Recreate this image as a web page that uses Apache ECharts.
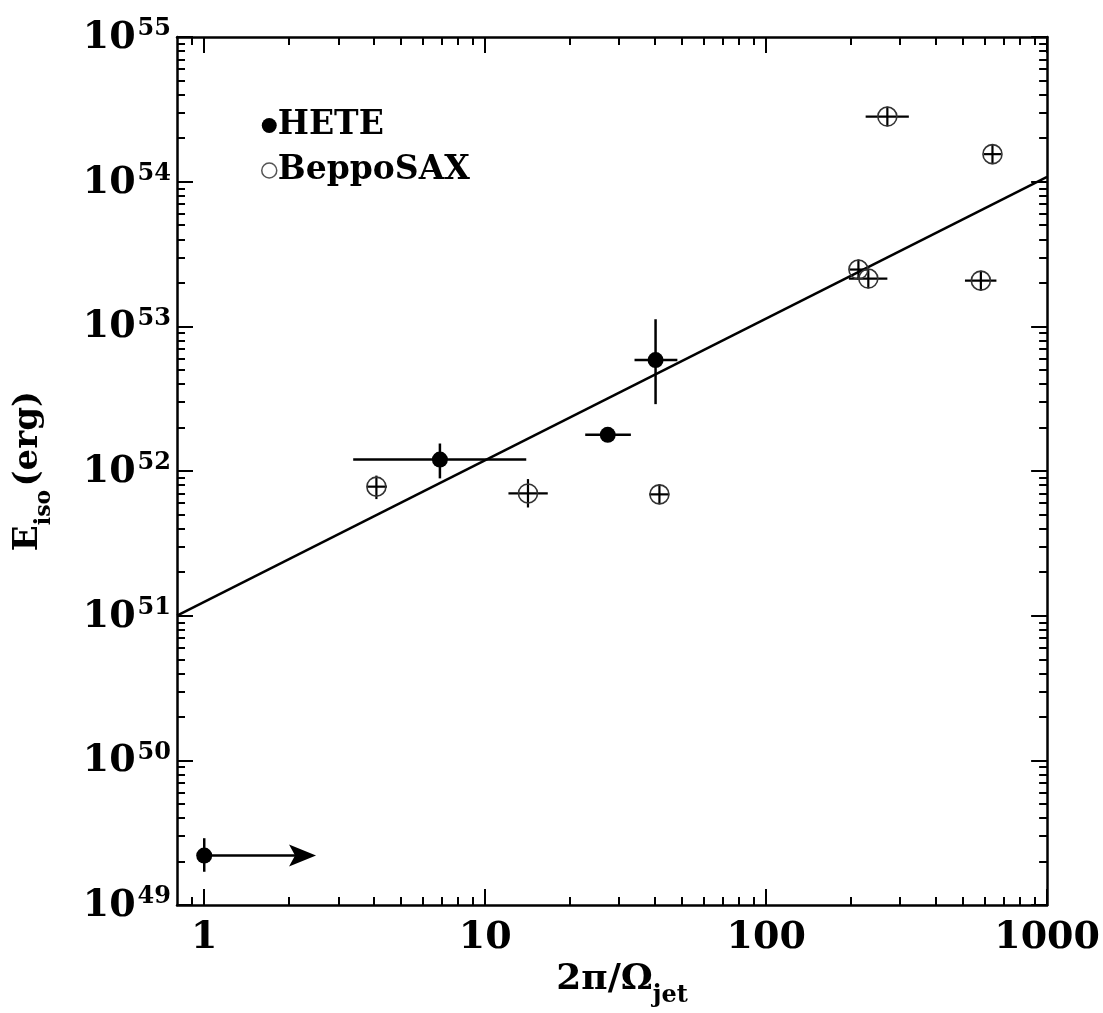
<!DOCTYPE html>
<html><head><meta charset="utf-8">
<script src="https://cdn.jsdelivr.net/npm/echarts@6.0.0/dist/echarts.min.js"></script>
<style>html,body{margin:0;padding:0;background:#fff;}#c{width:1103px;height:1013px;}</style>
</head><body><div id="c"></div>
<script>
// ---- data ----
const heteX    = [1, 6.9, 27.3, 40.4];
const heteY    = [2.2e49, 1.2e52, 1.78e52, 5.85e52];
const heteXLo  = [1, 3.39, 22.7, 34];
const heteXHi  = [1, 14.0, 33.0, 48.3];
const heteYLo  = [1.7e49, 0.89e52, 1.78e52, 2.9e52];
const heteYHi  = [2.9e49, 1.55e52, 1.78e52, 1.12e53];
const limitX   = [1];          // lower-limit arrow start
const limitY   = [2.2e49];
const limitEnd = [2.5];        // arrow tip

const saxX   = [4.1, 14.2, 41.7, 213, 231, 270, 581, 639];
const saxY   = [7.8e51, 7.0e51, 6.9e51, 2.47e53, 2.14e53, 2.82e54, 2.07e53, 1.55e54];
const saxXLo = [3.8, 12.1, 38.4, 198, 197, 226, 510, 595];
const saxXHi = [4.47, 16.7, 45.2, 230, 270, 322, 660, 686];
const saxYLo = [6.4e51, 5.6e51, 5.9e51, 2.1e53, 1.83e53, 2.41e54, 1.77e53, 1.32e54];
const saxYHi = [9.3e51, 8.8e51, 8.1e51, 2.9e53, 2.5e53, 3.3e54, 2.42e53, 1.82e54];

const fitX = [0.8, 1000];
const fitY = [1.0e51, 1.08e54];

const xMajor = [1, 10, 100, 1000];
const xMinor = [0.9, 2, 3, 4, 5, 6, 7, 8, 9, 20, 30, 40, 50, 60, 70, 80, 90, 200, 300, 400, 500, 600, 700, 800, 900];
const yMajor = [1e49, 1e50, 1e51, 1e52, 1e53, 1e54, 1e55];
const yMinor = [2e49,3e49,4e49,5e49,6e49,7e49,8e49,9e49,
                2e50,3e50,4e50,5e50,6e50,7e50,8e50,9e50,
                2e51,3e51,4e51,5e51,6e51,7e51,8e51,9e51,
                2e52,3e52,4e52,5e52,6e52,7e52,8e52,9e52,
                2e53,3e53,4e53,5e53,6e53,7e53,8e53,9e53,
                2e54,3e54,4e54,5e54,6e54,7e54,8e54,9e54];
const xRange = [0.8, 1000.0001];
const yRange = [0.9999999e49, 1.0000001e55];

// ---- chart ----
const FONT = 'DejaVu Serif';
const chart = echarts.init(document.getElementById('c'), null, {renderer: 'canvas'});

function xAx(pos, ticks, len, main) {
  return {
    type: 'log', logBase: 10, position: pos, min: xRange[0], max: xRange[1],
    axisLine: {show: main, onZero: false, lineStyle: {color: '#000', width: 2.5}},
    axisTick: {show: true, inside: true, length: len, customValues: ticks, lineStyle: {color: '#000', width: 2}},
    axisLabel: {show: false},
    splitLine: {show: false}, minorTick: {show: false}
  };
}
function yAx(pos, ticks, len, main) {
  return {
    type: 'log', logBase: 10, position: pos, min: yRange[0], max: yRange[1],
    axisLine: {show: main, onZero: false, lineStyle: {color: '#000', width: 2.5}},
    axisTick: {show: true, inside: true, length: len, customValues: ticks, lineStyle: {color: '#000', width: 2}},
    axisLabel: {show: false},
    splitLine: {show: false}, minorTick: {show: false}
  };
}

const xMain = xAx('bottom', xMajor, 16, true);
xMain.axisLabel = {
  show: true, customValues: xMajor, margin: 14,
  fontFamily: FONT, fontWeight: 'bold', fontSize: 38, color: '#000',
  formatter: v => String(Math.round(v))
};
xMain.name = '{a|2\u03c0/\u03a9}{s|jet}';
xMain.nameLocation = 'middle';
xMain.nameGap = 50;
xMain.nameTextStyle = {
  padding: [0, 0, 0, 20],
  rich: {
    a: {fontFamily: FONT, fontWeight: 'bold', fontSize: 36, color: '#000', lineHeight: 46, verticalAlign: 'top'},
    s: {fontFamily: FONT, fontWeight: 'bold', fontSize: 24, color: '#000', lineHeight: 24, verticalAlign: 'bottom'}
  }
};

const yMain = yAx('left', yMajor, 16, true);
yMain.axisLabel = {
  show: true, customValues: yMajor, margin: 6,
  formatter: v => '{b|10}{s|' + Math.round(Math.log10(v)) + '}',
  rich: {
    b: {fontFamily: FONT, fontWeight: 'bold', fontSize: 38, color: '#000', lineHeight: 40, verticalAlign: 'bottom'},
    s: {fontFamily: FONT, fontWeight: 'bold', fontSize: 24, color: '#000', lineHeight: 24, verticalAlign: 'top', padding: [0, 0, 0, 2]}
  }
};
yMain.name = '{a|E}{s|iso} {a|(erg)}';
yMain.nameLocation = 'middle';
yMain.nameRotate = 90;
yMain.nameGap = 122;
yMain.nameTextStyle = {
  rich: {
    a: {fontFamily: FONT, fontWeight: 'bold', fontSize: 34, color: '#000', lineHeight: 44, verticalAlign: 'top'},
    s: {fontFamily: FONT, fontWeight: 'bold', fontSize: 22, color: '#000', lineHeight: 22, verticalAlign: 'bottom'}
  }
};

function errRender(width) {
  return function (params, api) {
    const x = api.value(0), y = api.value(1);
    const a = api.coord([api.value(2), y]), b = api.coord([api.value(3), y]);
    const c = api.coord([x, api.value(4)]), d = api.coord([x, api.value(5)]);
    const st = {stroke: '#000', lineWidth: width};
    return {type: 'group', children: [
      {type: 'line', shape: {x1: a[0], y1: a[1], x2: b[0], y2: b[1]}, style: st},
      {type: 'line', shape: {x1: c[0], y1: c[1], x2: d[0], y2: d[1]}, style: st}
    ]};
  };
}

const heteErr = heteX.map((x, i) => [x, heteY[i], heteXLo[i], heteXHi[i], heteYLo[i], heteYHi[i]]);
const saxErr  = saxX.map((x, i) => [x, saxY[i], saxXLo[i], saxXHi[i], saxYLo[i], saxYHi[i]]);
const arrowData = limitX.map((x, i) => [x, limitY[i], limitEnd[i]]);

const option = {
  animation: false,
  backgroundColor: '#fff',
  grid: {left: 177, right: 47, top: 37, bottom: 100, containLabel: false},
  legend: {
    orient: 'vertical', left: 256, top: 104, itemWidth: 15, itemHeight: 15, itemGap: 12,
    selectedMode: false,
    textStyle: {fontFamily: FONT, fontWeight: 'bold', fontSize: 33, color: '#000', padding: [0, 0, 0, -4]},
    data: [
      {name: 'HETE', icon: 'circle', itemStyle: {color: '#000', borderWidth: 0, opacity: 1}},
      {name: 'BeppoSAX', icon: 'circle', itemStyle: {color: '#fff', borderColor: '#555', borderWidth: 1.5, opacity: 1}}
    ]
  },
  xAxis: [xMain, xAx('bottom', xMinor, 8, false), xAx('top', xMajor, 16, true), xAx('top', xMinor, 8, false)],
  yAxis: [yMain, yAx('left', yMinor, 8, false), yAx('right', yMajor, 16, true), yAx('right', yMinor, 8, false)],
  series: [
    {type: 'line', name: 'fit', data: fitX.map((x, i) => [x, fitY[i]]), symbol: 'none',
     lineStyle: {color: '#000', width: 2.5}, silent: true, z: 2},
    {type: 'custom', name: 'heteErr', data: heteErr, renderItem: errRender(2.5), encode: {x: [0, 2, 3], y: [1, 4, 5]}, z: 3, silent: true},
    {type: 'custom', name: 'saxErr', data: saxErr, renderItem: errRender(2.2), encode: {x: [0, 2, 3], y: [1, 4, 5]}, z: 3, silent: true},
    {type: 'custom', name: 'arrow', data: arrowData, z: 3, silent: true,
     encode: {x: [0, 2], y: 1},
     renderItem: function (params, api) {
       const p1 = api.coord([api.value(0), api.value(1)]);
       const p2 = api.coord([api.value(2), api.value(1)]);
       return {type: 'group', children: [
         {type: 'line', shape: {x1: p1[0], y1: p1[1], x2: p2[0] - 8, y2: p2[1]}, style: {stroke: '#000', lineWidth: 2.5}},
         {type: 'polygon', shape: {points: [[p2[0], p2[1]], [p2[0] - 27, p2[1] - 11], [p2[0] - 21, p2[1]], [p2[0] - 27, p2[1] + 11]]}, style: {fill: '#000'}}
       ]};
     }},
    {type: 'scatter', name: 'HETE', data: heteX.map((x, i) => [x, heteY[i]]), symbol: 'circle', symbolSize: 16,
     itemStyle: {color: '#000', opacity: 1}, z: 5},
    {type: 'scatter', name: 'BeppoSAX', data: saxX.map((x, i) => [x, saxY[i]]), symbol: 'circle', symbolSize: 19,
     itemStyle: {color: 'rgba(255,255,255,0)', borderColor: '#333', borderWidth: 1.6, opacity: 1}, z: 5}
  ]
};
chart.setOption(option);
</script>
</body></html>
